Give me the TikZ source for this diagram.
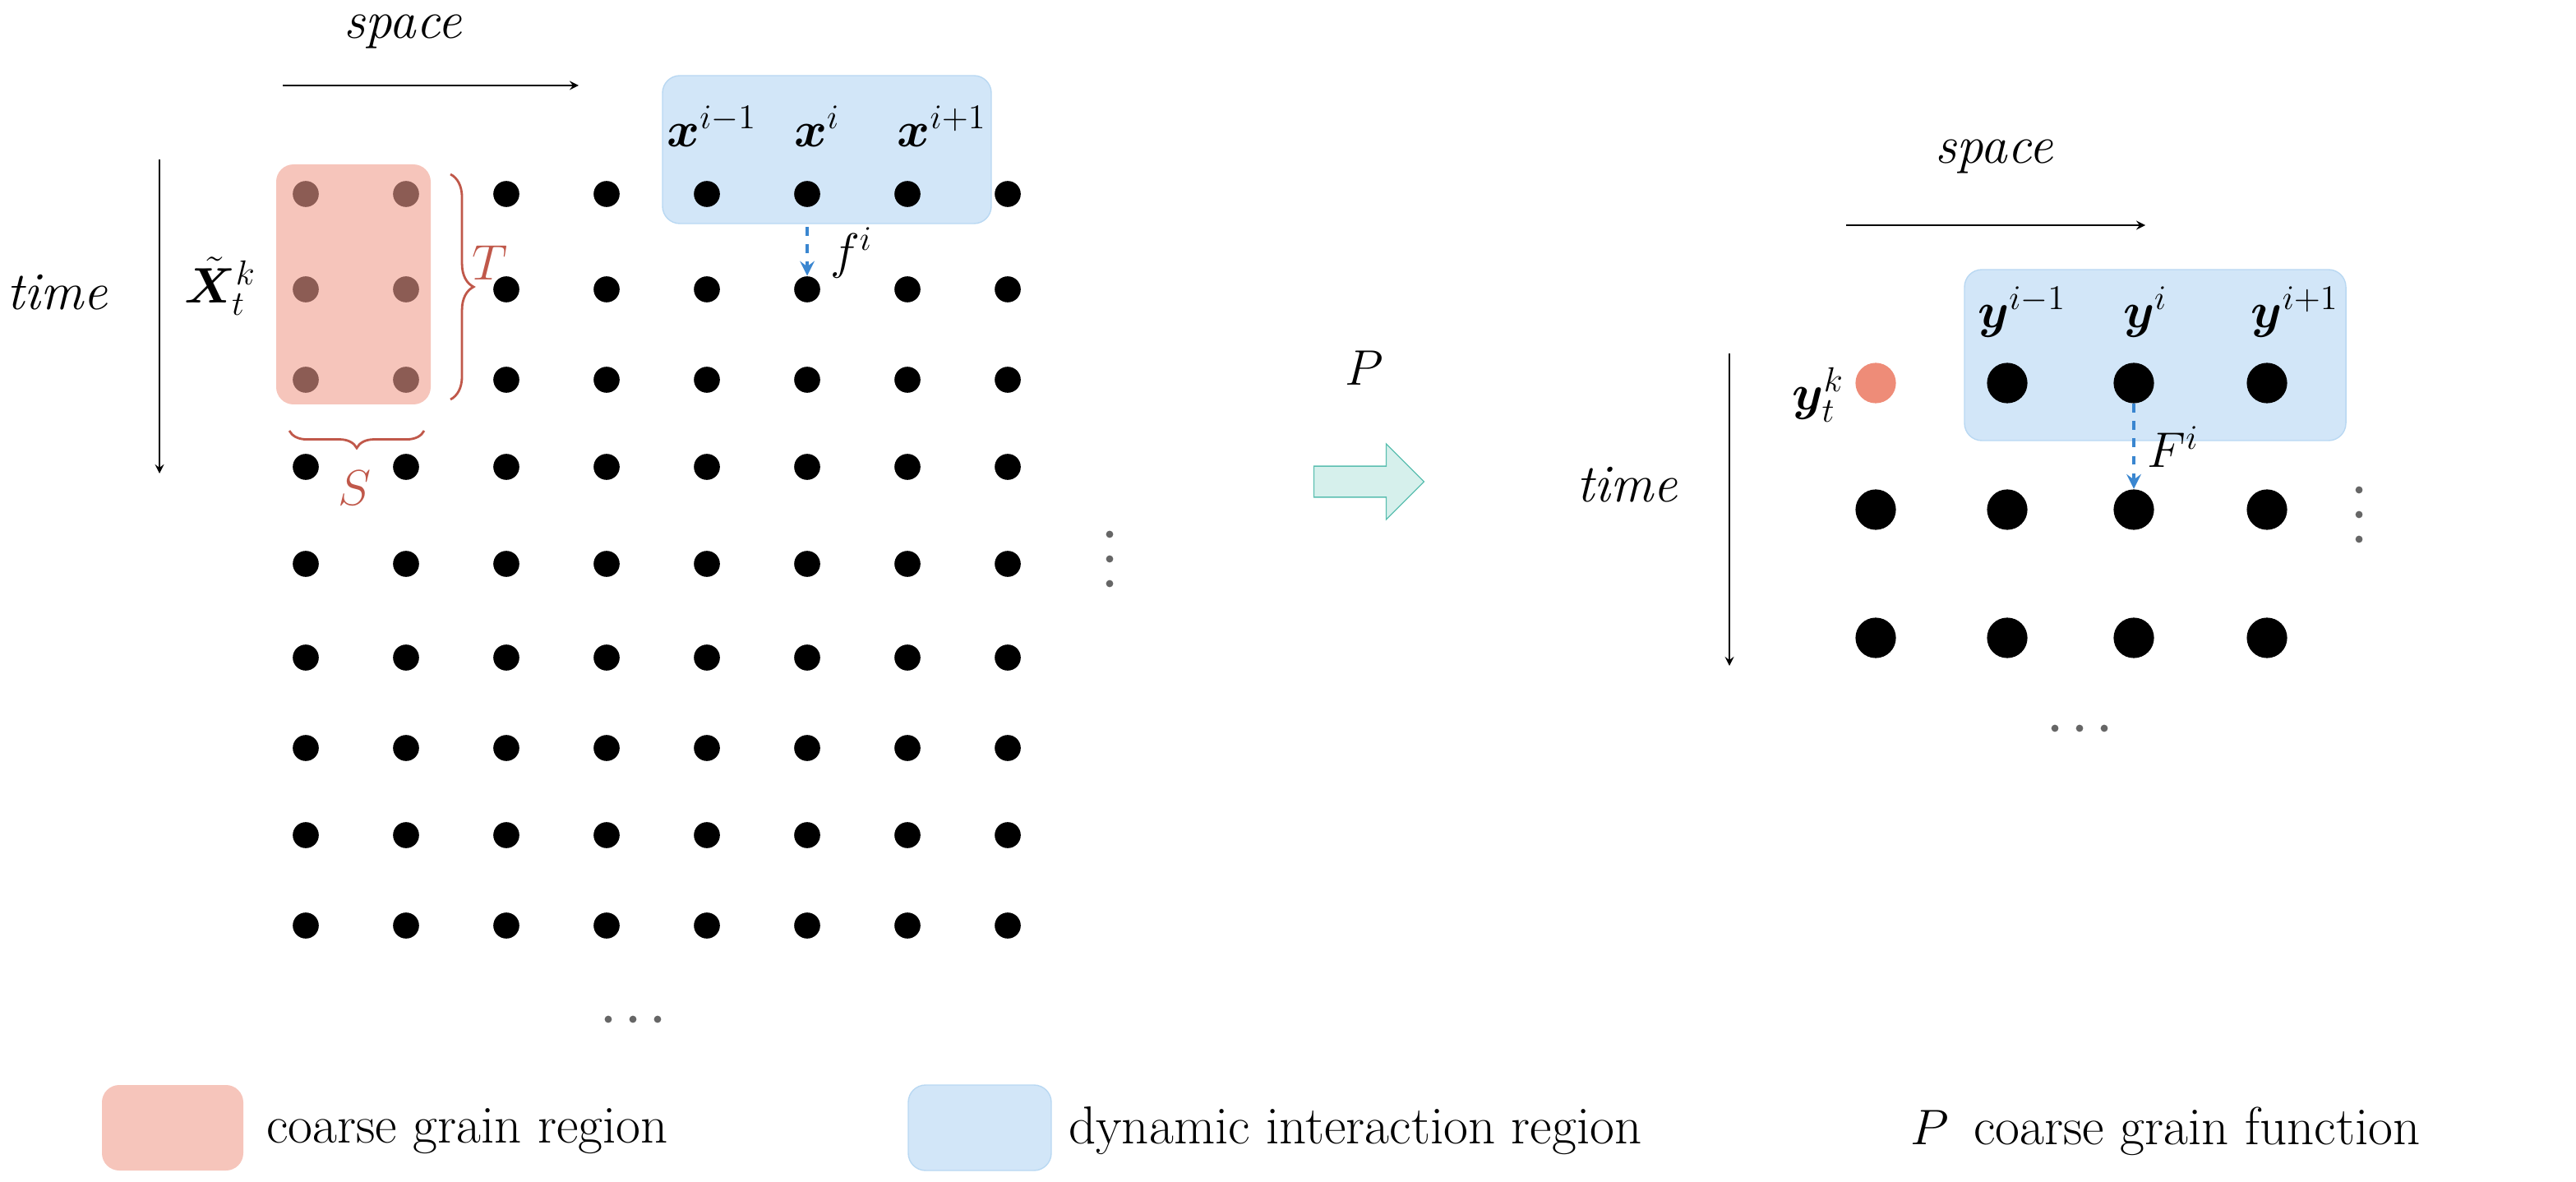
\documentclass[tikz,border=0pt]{standalone}
\usepackage{amsmath,bm}
\usetikzlibrary{decorations.pathreplacing,shapes.arrows}
\definecolor{pinkf}{HTML}{F6C5BB}
\definecolor{bluef}{HTML}{D2E6F8}
\definecolor{blued}{HTML}{B9D8F2}
\definecolor{bracec}{HTML}{C0584A}
\definecolor{arrb}{HTML}{3A86D0}
\definecolor{teal1}{HTML}{5BBFB0}
\definecolor{teal2}{HTML}{D6F0EC}
\definecolor{brownd}{HTML}{7A4A42}
\definecolor{salmon}{HTML}{EE8C78}
\tikzset{
 dot/.style={circle,fill=black,inner sep=0pt,minimum size=9pt},
 bdot/.style={circle,fill=black,inner sep=0pt,minimum size=14pt},
 pinkbox/.style={fill=pinkf,draw=none,rounded corners=6pt},
 bluebox/.style={fill=bluef,draw=blued,rounded corners=6pt},
 lbl/.style={font=\fontsize{18.5}{22}\selectfont,inner sep=1pt},
 dash arrow/.style={arrb,dashed,line width=1.2pt,-stealth},
 ax/.style={-stealth,thin}
}
\begin{document}
\begin{tikzpicture}[x=0.02cm,y=-0.02cm]
\useasboundingbox (0,0) rectangle (1567,719);
% left
\node[pinkbox,minimum width=94*0.02cm,minimum height=146*0.02cm] (pk) at (215,173) {};
\node[bluebox,minimum width=200*0.02cm,minimum height=90*0.02cm] (bl) at (503,91) {};
\foreach \c [count=\i] in {186,247,308,369,430,491,552,613}{
 \foreach \r [count=\j] in {118,176,231,284,343,400,455,508,563}{
  \ifnum\i<3 \ifnum\j<4
   \node[dot,fill=brownd,opacity=0.85] (d\i-\j) at (\c,\r) {};
  \else \node[dot] (d\i-\j) at (\c,\r) {}; \fi
  \else \node[dot] (d\i-\j) at (\c,\r) {}; \fi
 }}
\node[lbl] (x1) at (433,77) {$\bm{x}^{i-1}$};
\node[lbl] (x2) at (497,77) {$\bm{x}^{i}$};
\node[lbl] (x3) at (573,77) {$\bm{x}^{i+1}$};
\coordinate (fa) at (491,138);
\draw[dash arrow] (fa) -- (d6-2.north);
\node[lbl] (f) at (518,154) {$f^i$};
\draw[bracec,thick,decorate,decoration={brace,amplitude=8pt}] (274,106) -- (274,243) coordinate[midway] (tb);
\node[lbl,text=bracec] (T) at (298,160) {$T$};
\draw[bracec,thick,decorate,decoration={brace,amplitude=6pt,mirror}] (176,262) -- (258,262);
\node[lbl,text=bracec] (S) at (216,297) {$S$};
\node[lbl] (X) at (134,174) {$\tilde{\bm{X}}_t^k$};
\node[lbl] (tl) at (35,178) {\textit{time}};
\coordinate (ta) at (97,97); \coordinate (tb2) at (97,288);
\draw[ax] (ta) -- (tb2);
\node[lbl] (sl) at (245,19) {\textit{space}};
\coordinate (sa) at (172,52); \coordinate (sb) at (352,52);
\draw[ax] (sa) -- (sb);
\foreach \y in {325,340,355} \fill[black!60] (675,\y) circle (2.2);
\foreach \x in {370,385,400} \fill[black!60] (\x,620) circle (2.2);
% center
\node[single arrow,draw=teal1,fill=teal2,minimum height=67*0.02cm,minimum width=46*0.02cm,single arrow head extend=6pt,inner sep=4pt,shape border rotate=0] (P) at (828,293) {};
\node[lbl] (Pl) at (830,224) {$P$};
% right
\node[bluebox,minimum width=232*0.02cm,minimum height=104*0.02cm] (br) at (1311,216) {};
\foreach \c [count=\i] in {1141,1221,1298,1379}{
 \foreach \r [count=\j] in {233,310,388}{
  \ifnum\i=1 \ifnum\j=1
   \node[bdot,fill=salmon] (e\i-\j) at (\c,\r) {};
  \else \node[bdot] (e\i-\j) at (\c,\r) {}; \fi
  \else \node[bdot] (e\i-\j) at (\c,\r) {}; \fi
 }}
\node[lbl] (y1) at (1230,190) {$\bm{y}^{i-1}$};
\node[lbl] (y2) at (1305,190) {$\bm{y}^{i}$};
\node[lbl] (y3) at (1396,190) {$\bm{y}^{i+1}$};
\node[lbl] (yk) at (1106,240) {$\bm{y}_t^k$};
\draw[dash arrow] (e3-1.south) -- (e3-2.north);
\node[lbl] (F) at (1322,272) {$F^i$};
\node[lbl] (sr) at (1213,95) {\textit{space}};
\coordinate (sra) at (1123,137); \coordinate (srb) at (1305,137);
\draw[ax] (sra) -- (srb);
\node[lbl] (tr) at (990,295) {\textit{time}};
\coordinate (tra) at (1052,215); \coordinate (trb) at (1052,405);
\draw[ax] (tra) -- (trb);
\foreach \y in {298,313,328} \fill[black!60] (1435,\y) circle (2.2);
\foreach \x in {1250,1265,1280} \fill[black!60] (\x,443) circle (2.2);
% legend
\node[pinkbox,minimum width=86*0.02cm,minimum height=52*0.02cm] (lg1) at (105,686) {};
\node[lbl,anchor=west] (lt1) at (160,688) {coarse grain region};
\node[bluebox,minimum width=87*0.02cm,minimum height=52*0.02cm] (lg2) at (596,686) {};
\node[lbl,anchor=west] (lt2) at (648,688) {dynamic interaction region};
\node[lbl,anchor=west] (lt3) at (1160,688) {$P$\, coarse grain function};
\end{tikzpicture}
\end{document}
